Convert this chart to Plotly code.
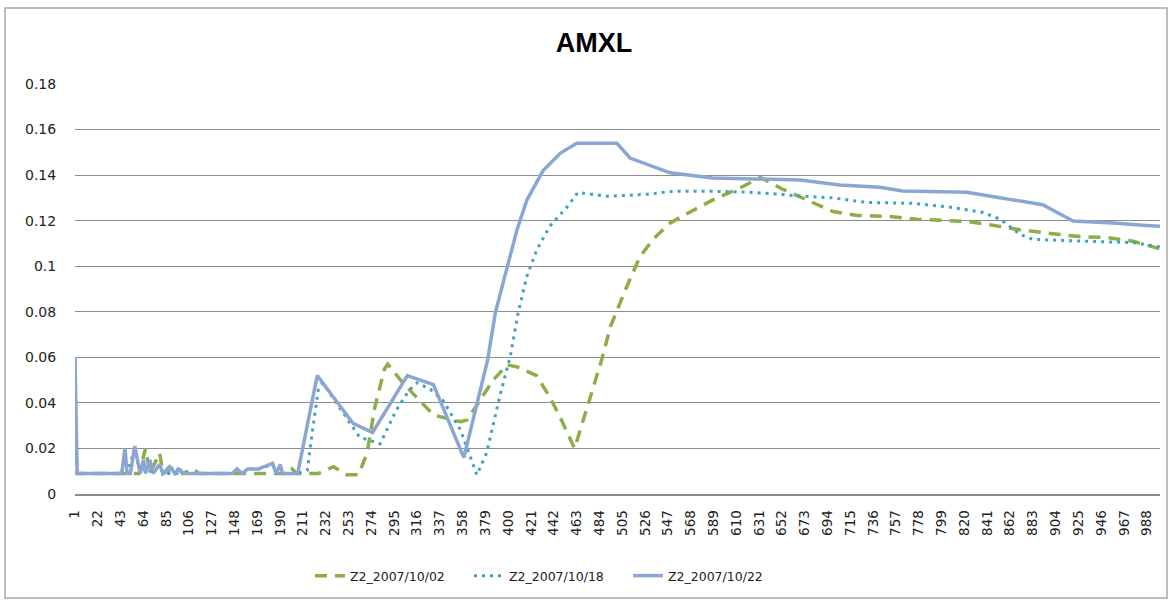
import plotly.graph_objects as go

# ---- data (category index, value) ----
tick_labels = list(range(1, 1000, 21))  # 1, 22, 43, ... 988

x_1002 = [1, 3, 60, 66, 70, 79, 82, 95, 100, 110, 115, 199, 201, 205, 225, 239, 251, 262,
          270, 277, 286, 289, 303, 319, 331, 356, 362, 371, 386, 399, 408, 426, 438, 448,
          461, 486, 494, 509, 521, 533, 549, 570, 576, 588, 616, 632, 653, 678, 699, 721,
          749, 776, 822, 846, 871, 899, 926, 951, 975, 997, 1000]
y_1002 = [0.028, 0.009, 0.009, 0.020, 0.009, 0.018, 0.009, 0.0125, 0.009, 0.011, 0.009, 0.009,
          0.011, 0.009, 0.009, 0.012, 0.0085, 0.0085, 0.018, 0.038, 0.055, 0.057, 0.0487,
          0.0405, 0.0347, 0.0317, 0.0325, 0.039, 0.050, 0.0567, 0.0558, 0.052, 0.0427, 0.0334,
          0.020, 0.059, 0.0735, 0.091, 0.104, 0.1117, 0.119, 0.1245, 0.126, 0.129, 0.135,
          0.139, 0.1337, 0.1285, 0.124, 0.1223, 0.1219, 0.1206, 0.1197, 0.118, 0.116, 0.1144,
          0.113, 0.1126, 0.111, 0.108, 0.1078]

x_1018 = [1, 3, 44, 47, 49, 56, 61, 64, 66, 79, 82, 146, 150, 155, 160, 170, 183, 186, 206,
          215, 220, 225, 229, 257, 263, 282, 297, 309, 316, 328, 340, 356, 371, 380, 392, 402,
          409, 417, 426, 438, 454, 464, 491, 528, 552, 588, 620, 650, 662, 699, 730, 773, 809,
          837, 853, 871, 883, 929, 975, 997, 1000]
y_1018 = [0.035, 0.009, 0.009, 0.018, 0.009, 0.020, 0.009, 0.014, 0.009, 0.012, 0.009, 0.009,
          0.011, 0.009, 0.011, 0.011, 0.013, 0.009, 0.009, 0.0105, 0.029, 0.0457, 0.0488,
          0.029, 0.025, 0.022, 0.037, 0.0457, 0.0488, 0.046, 0.041, 0.028, 0.0084, 0.018,
          0.0427, 0.061, 0.0796, 0.0955, 0.107, 0.1175, 0.126, 0.1324, 0.1307, 0.1316, 0.1329,
          0.1329, 0.1325, 0.1316, 0.131, 0.130, 0.128, 0.1276, 0.1258, 0.1236, 0.1206, 0.114,
          0.1118, 0.111, 0.1104, 0.1087, 0.1085]

x_1022 = [1, 3, 44, 47, 49, 52, 56, 61, 64, 66, 70, 73, 79, 82, 88, 93, 96, 100, 146, 150,
          155, 160, 170, 183, 186, 190, 192, 206, 224, 257, 275, 307, 331, 359, 381, 388, 399,
          408, 417, 432, 448, 463, 500, 512, 549, 588, 669, 705, 742, 763, 822, 892, 920, 957,
          984, 1000]
y_1022 = [0.060, 0.009, 0.009, 0.020, 0.009, 0.009, 0.021, 0.009, 0.015, 0.009, 0.015, 0.009,
          0.013, 0.009, 0.012, 0.009, 0.011, 0.009, 0.009, 0.011, 0.009, 0.011, 0.011, 0.0135,
          0.009, 0.013, 0.009, 0.009, 0.052, 0.031, 0.027, 0.052, 0.048, 0.016, 0.059, 0.0795,
          0.0997, 0.116, 0.129, 0.142, 0.1497, 0.154, 0.154, 0.1475, 0.141, 0.1387, 0.1379,
          0.1357, 0.1347, 0.133, 0.1325, 0.127, 0.1198, 0.119, 0.118, 0.1175]

y_ticks = [0, 0.02, 0.04, 0.06, 0.08, 0.1, 0.12, 0.14, 0.16, 0.18]
y_tick_text = ["0", "0.02", "0.04", "0.06", "0.08", "0.1", "0.12", "0.14", "0.16", "0.18"]

FONT = "'DejaVu Sans', Verdana, sans-serif"
TITLE_FONT = "'Liberation Sans', Arial, sans-serif"

fig = go.Figure()
fig.add_trace(go.Scatter(x=x_1002, y=y_1002, mode="lines", name="Z2_2007/10/02",
                         line=dict(color="#8DAD47", width=3.5, dash="12px,8px")))
fig.add_trace(go.Scatter(x=x_1018, y=y_1018, mode="lines", name="Z2_2007/10/18",
                         line=dict(color="#3FA3BF", width=3, dash="3px,5px")))
fig.add_trace(go.Scatter(x=x_1022, y=y_1022, mode="lines", name="Z2_2007/10/22",
                         line=dict(color="#8CA6D4", width=3.5)))

fig.update_layout(
    width=1169, height=600,
    margin=dict(l=75, r=9, t=84, b=106),
    paper_bgcolor="white", plot_bgcolor="white",
    font=dict(family=FONT, size=12.5, color="#222222"),
    title=dict(text="<b>AMXL</b>", x=594 / 1169, xanchor="center",
               y=1 - 43 / 600, yanchor="middle",
               font=dict(family=TITLE_FONT, size=27, color="#000000")),
    showlegend=True,
    legend=dict(orientation="h", x=(310 - 75) / 1085, xanchor="left",
                y=(494 - 576) / 410, yanchor="middle",
                font=dict(family=FONT, size=12.5, color="#222222"),
                entrywidth=114, entrywidthmode="pixels",
                bgcolor="rgba(0,0,0,0)"),
    xaxis=dict(range=[1, 1000], tickmode="array", tickvals=tick_labels,
               ticktext=[str(v) for v in tick_labels], tickangle=-90,
               showgrid=False, zeroline=False, showline=True, linecolor="#8c8c8c",
               linewidth=1.5, ticks="outside", ticklen=9, tickcolor="rgba(0,0,0,0)",
               tickfont=dict(family=FONT, size=13.5, color="#222222")),
    yaxis=dict(range=[0, 0.18], tickmode="array", tickvals=y_ticks, ticktext=y_tick_text,
               showgrid=True, gridcolor="#8c8c8c", gridwidth=1, zeroline=False,
               showline=False, ticks="outside", ticklen=15, tickcolor="rgba(0,0,0,0)",
               tickfont=dict(family=FONT, size=14, color="#222222")),
    shapes=[dict(type="rect", xref="paper", yref="paper",
                 x0=(5 - 75) / 1085, x1=(1167 - 75) / 1085,
                 y0=(494 - 598) / 410, y1=(494 - 8) / 410,
                 line=dict(color="#a6a6a6", width=1.5), fillcolor="rgba(0,0,0,0)",
                 layer="below")],
)

fig.write_html("out.html")
